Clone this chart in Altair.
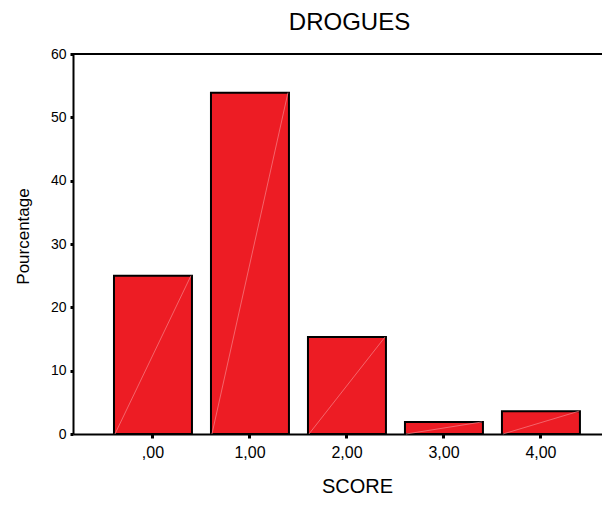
import altair as alt
import pandas as pd

categories = [",00", "1,00", "2,00", "3,00", "4,00"]
percentages = [25.0, 53.9, 15.3, 1.9, 3.6]

df = pd.DataFrame({"score": categories, "pct": percentages})

FONT = "Liberation Sans"

x_enc = alt.X(
    "score:N",
    sort=categories,
    scale=alt.Scale(paddingInner=0.196, paddingOuter=0.325, align=0.65),
    axis=alt.Axis(
        title="SCORE", titleFontSize=20, titleFont=FONT, titleFontWeight="normal",
        titleColor="black", titleX=284, titleY=58, titleAlign="center",
        titleBaseline="alphabetic",
        labelAngle=0, labelFont=FONT, labelFontSize=16, labelColor="black",
        labelPadding=6, tickSize=4, tickWidth=3, tickColor="black",
        domainColor="black", domainWidth=2,
    ),
)
y_enc = alt.Y(
    "pct:Q",
    scale=alt.Scale(domain=[0, 60], nice=False),
    axis=alt.Axis(
        title="Pourcentage", titleFontSize=17, titleFont=FONT, titleFontWeight="normal",
        titleColor="black", titleX=-50, titleY=182, titleAlign="center",
        titleBaseline="middle", titleAngle=-90,
        values=[0, 10, 20, 30, 40, 50, 60], grid=False,
        labelFont=FONT, labelFontSize=14, labelColor="black", labelPadding=4,
        tickSize=3, tickWidth=3, tickColor="black",
        domainColor="black", domainWidth=2,
    ),
)

bars = alt.Chart(df).mark_bar(
    color="#ED1C24", stroke="black", strokeWidth=2
).encode(x=x_enc, y=y_enc)

diag = alt.Chart(df).mark_rule(
    color="#F7848A", strokeWidth=0.7, xOffset=38, x2Offset=-38
).encode(
    x=alt.X("score:N", sort=categories),
    x2=alt.X2("score"),
    y=alt.Y("pct:Q"),
    y2=alt.datum(0),
)

top = alt.Chart(df).mark_rule(color="black", strokeWidth=2).encode(
    y=alt.datum(60)
)

chart = alt.layer(bars, diag, top).properties(
    width=529,
    height=380,
    title=alt.TitleParams(
        "DROGUES", font=FONT, fontSize=24, fontWeight="normal", color="black",
        anchor="middle", dx=12, offset=12,
    ),
    autosize=alt.AutoSizeParams(type="none"),
    padding={"left": 65, "top": 46, "right": 0, "bottom": 64},
).configure_view(stroke=None).configure(background="white")

chart.save("out.html", embed_options={"renderer": "svg", "actions": False})
